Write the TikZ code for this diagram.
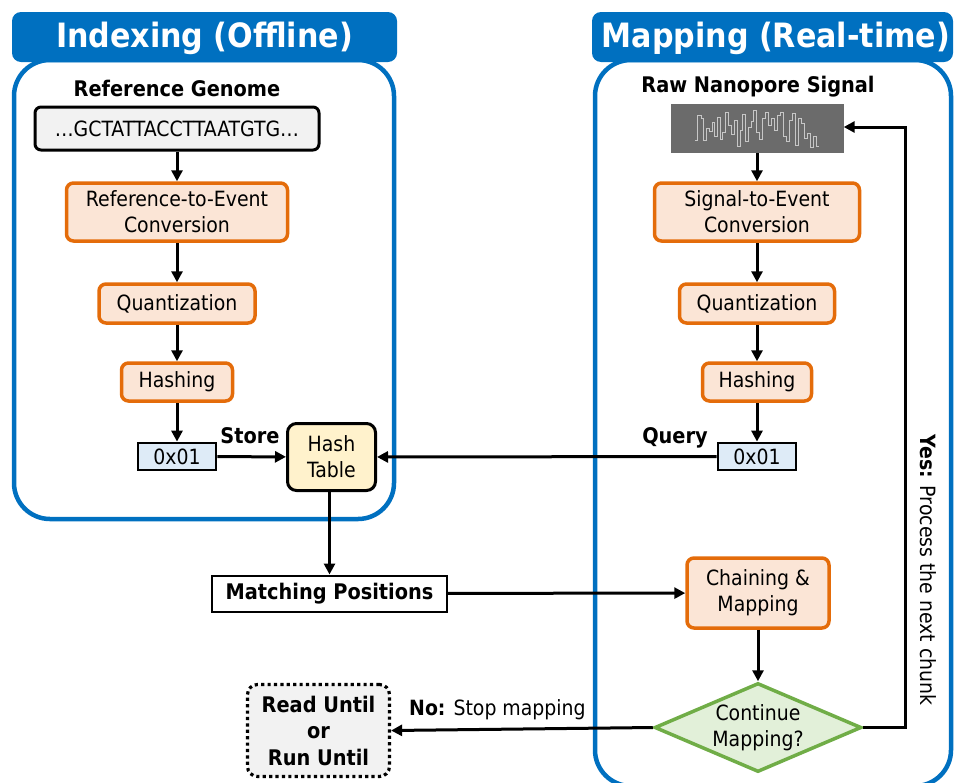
\documentclass[tikz,border=0pt]{standalone}
\usepackage{fontspec}
\setmainfont{DejaVu Sans Condensed}
\usetikzlibrary{arrows.meta,shapes.geometric}
\definecolor{hblue}{HTML}{0070C0}
\definecolor{orbord}{HTML}{E46C0A}
\definecolor{orfill}{HTML}{FBE5D6}
\definecolor{gnbord}{HTML}{70AD47}
\definecolor{gnfill}{HTML}{E2F0D9}
\definecolor{blfill}{HTML}{DEEBF7}
\definecolor{yefill}{HTML}{FFF2CC}
\definecolor{grfill}{HTML}{F2F2F2}
\tikzset{
  procbox/.style={draw=orbord, fill=orfill, line width=3.5pt, rounded corners=7pt, align=center, font=\fontsize{21}{26}\selectfont, inner sep=0pt},
  codebox/.style={draw=black, fill=blfill, line width=2.8pt, font=\fontsize{21}{24}\selectfont, inner sep=0pt},
  arr/.style={line width=3pt, -{Triangle[length=11pt,width=11pt]}},
  panel/.style={draw=hblue, line width=4.5pt, rounded corners=36pt},
  header/.style={fill=hblue, rounded corners=9pt},
  htext/.style={text=white, font=\fontsize{33.5}{38}\selectfont\bfseries},
  title/.style={font=\fontsize{21.5}{26}\selectfont\bfseries},
  lbl/.style={font=\fontsize{21}{25}\selectfont},
}
\begin{document}
\begin{tikzpicture}[x=1pt,y=-1pt]
\useasboundingbox (0,0) rectangle (955,782);
% panels
\draw[panel] (14,60) rectangle (394,519);
\fill[header] (12,12) rectangle (397,62);
\node[htext] (hl) at (204.5,38) {Indexing (Offline)};
\draw[panel] (595,60) rectangle (951,786);
\fill[header] (592,12) rectangle (953,62);
\node[htext] (hr) at (776,38) {Mapping (Real-time)};

% left column
\node[title] (rg) at (177,88) {Reference Genome};
\node[draw=black, fill=grfill, line width=3pt, rounded corners=6pt, minimum width=284pt, minimum height=43pt, inner sep=0pt, lbl] (gen) at (177,128.5) {…GCTATTACCTTAATGTG…};
\node[procbox, minimum width=221pt, minimum height=58pt] (r2e) at (177,212) {Reference-to-Event\\Conversion};
\node[procbox, minimum width=156pt, minimum height=39pt] (ql) at (177,303.5) {Quantization};
\node[procbox, minimum width=111pt, minimum height=38pt] (hl2) at (177,382) {Hashing};
\node[codebox, minimum width=78pt, minimum height=27pt] (cl) at (177,456.5) {0x01};
\node[draw=black, fill=yefill, line width=3pt, rounded corners=9pt, minimum width=88pt, minimum height=67pt, align=center, inner sep=0pt, font=\fontsize{21}{26}\selectfont] (ht) at (331.5,457) {Hash\\Table};
\node[title] (st) at (250,436) {Store};

\draw[arr] (gen) -- (r2e);
\draw[arr] (r2e) -- (ql);
\draw[arr] (ql) -- (hl2);
\draw[arr] (hl2) -- (cl);
\draw[arr] (cl) -- (ht);

% right column
\node[title] (rs) at (758,87) {Raw Nanopore Signal};
\node[fill=black!58, minimum width=173pt, minimum height=49pt, inner sep=0pt] (sig) at (757,128.5) {};
\draw[black!22, line width=0.9pt] (695,140) -| (697,115) -| (701,118) -| (703,140) -| (706,128) -| (709,131) -| (712,122) -| (714,136) -| (717,117) -| (720,139) -| (722,132) -| (725,112) -| (728,125) -| (731,134) -| (734,120) -| (737,146) -| (740,130) -| (742,114) -| (745,141) -| (748,127) -| (751,121) -| (753,110) -| (756,132) -| (759,139) -| (762,118) -| (765,112) -| (768,125) -| (771,118) -| (774,130) -| (777,115) -| (780,112) -| (783,136) -| (786,141) -| (789,120) -| (792,113) -| (795,145) -| (798,118) -| (801,123) -| (804,138) -| (807,133) -| (810,147) -| (813,136) -| (816,146) -- (819,146);
\node[procbox, minimum width=205pt, minimum height=58pt] (s2e) at (757,212) {Signal-to-Event\\Conversion};
\node[procbox, minimum width=155pt, minimum height=39pt] (qr) at (757,303.5) {Quantization};
\node[procbox, minimum width=109pt, minimum height=38pt] (hr2) at (757,382) {Hashing};
\node[codebox, minimum width=78pt, minimum height=27pt] (cr) at (757,456.5) {0x01};
\node[title] (qy) at (675,438) {Query};
\node[procbox, minimum width=142pt, minimum height=70pt] (cm) at (758,593) {Chaining \&\\Mapping};
\node[diamond, draw=gnbord, fill=gnfill, line width=3.5pt, minimum width=207pt, minimum height=89pt, inner sep=0pt, aspect=2.3, align=center, font=\fontsize{21}{26}\selectfont] (dm) at (758,727.5) {Continue\\Mapping?};

\draw[arr] (sig) -- (s2e);
\draw[arr] (s2e) -- (qr);
\draw[arr] (qr) -- (hr2);
\draw[arr] (hr2) -- (cr);
\draw[arr] (cr) -- (ht);
\draw[arr] (cm) -- (dm);

% bottom
\node[draw=black, fill=white, line width=2pt, minimum width=235pt, minimum height=36pt, inner sep=0pt, title] (mp) at (329.5,593.5) {Matching Positions};
\draw[arr] (ht.south -| mp) -- (mp);
\draw[arr] (mp) -- (cm);

\node[draw=black, fill=grfill, line width=3.2pt, dash pattern=on 3.2pt off 3.2pt, rounded corners=10pt, minimum width=142pt, minimum height=92pt, align=center, inner sep=0pt, font=\fontsize{21.5}{26.5}\selectfont\bfseries] (ru) at (318.5,730.5) {Read Until\\or\\Run Until};
\draw[arr] (dm.west) -- (ru.east);
\node[lbl, anchor=base west, inner sep=0pt] (no) at (409,715) {\textbf{No:} Stop mapping};

\coordinate (c1) at (905,727.5);
\coordinate (c2) at (905,127);
\draw[arr] (dm.east) -- (c1) -- (c2) -- (sig.east |- c2);
\node[lbl, rotate=-90] (yes) at (928,570) {\textbf{Yes:} Process the next chunk};
\end{tikzpicture}
\end{document}
